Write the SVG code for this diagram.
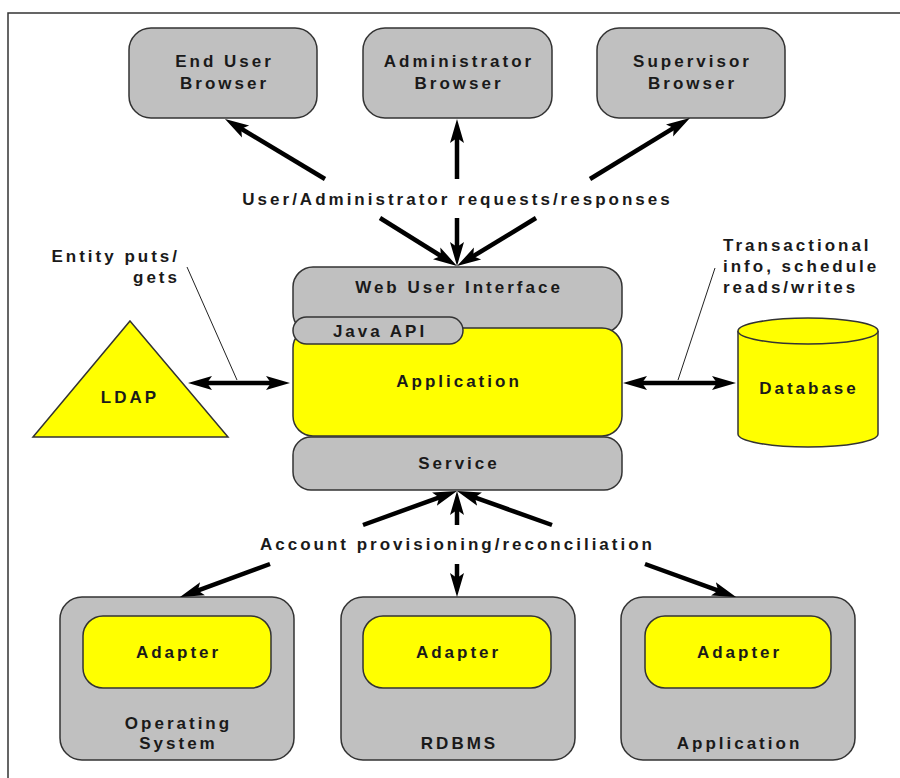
<svg xmlns="http://www.w3.org/2000/svg" width="900" height="778" viewBox="0 0 900 778">
<defs>
<style>
.t{font-family:"Liberation Sans",Arial,sans-serif;font-weight:bold;font-size:17px;letter-spacing:3px;fill:#1a1a1a}
.m{text-anchor:middle}
.e{text-anchor:end}
.g{fill:#c0c0c0;stroke:#333;stroke-width:1.5}
.y{fill:#ffff00;stroke:#333;stroke-width:1.5}
.a{stroke:#000;stroke-width:4.5;fill:none}
.l{stroke:#222;stroke-width:1;fill:none}
</style>
<marker id="ah" viewBox="0 0 24 16" refX="6" refY="8" markerWidth="24" markerHeight="16" markerUnits="userSpaceOnUse" orient="auto-start-reverse">
<path d="M0,1 L24,8 L0,15 L5,8 z" fill="#000"/>
</marker>
</defs>
<rect width="900" height="778" fill="#fff"/>
<path d="M8,778 V13 H900" fill="none" stroke="#333" stroke-width="1.5"/>

<g id="end-user-browser">
<rect class="g" x="129" y="28" width="188" height="90" rx="22"/>
<text class="t m" x="224.5" y="67">End User</text>
<text class="t m" x="224.5" y="89">Browser</text>
</g>
<g id="administrator-browser">
<rect class="g" x="363" y="28" width="189" height="90" rx="22"/>
<text class="t m" x="459" y="67">Administrator</text>
<text class="t m" x="459" y="89">Browser</text>
</g>
<g id="supervisor-browser">
<rect class="g" x="597" y="28" width="188" height="90" rx="22"/>
<text class="t m" x="692.5" y="67">Supervisor</text>
<text class="t m" x="692.5" y="89">Browser</text>
</g>

<g id="web-user-interface">
<rect class="g" x="293" y="267" width="329" height="66" rx="20"/>
<text class="t m" x="459" y="293">Web User Interface</text>
</g>
<g id="application">
<rect class="y" x="293" y="328" width="329" height="108" rx="20"/>
<text class="t m" x="459" y="387">Application</text>
</g>
<g id="java-api">
<rect class="g" x="293" y="317" width="170" height="27" rx="13.5"/>
<text class="t m" x="380" y="337">Java API</text>
</g>
<g id="service">
<rect class="g" x="293" y="437" width="329" height="53" rx="18"/>
<text class="t m" x="459" y="469">Service</text>
</g>

<g id="ldap">
<polygon class="y" points="130,321 228,437 33,437"/>
<text class="t m" x="130" y="403">LDAP</text>
</g>

<g id="database">
<path class="y" d="M738,331 V434 A70,13 0 0 0 878,434 V331"/>
<ellipse class="y" cx="808" cy="331" rx="70" ry="13"/>
<text class="t m" x="809" y="394">Database</text>
</g>

<g id="operating-system">
<rect class="g" x="60" y="597" width="234" height="163" rx="22"/>
<rect class="y" x="83" y="616" width="188" height="72" rx="20"/>
<text class="t m" x="178.5" y="658">Adapter</text>
<text class="t m" x="178.5" y="729">Operating</text>
<text class="t m" x="178.5" y="749">System</text>
</g>
<g id="rdbms">
<rect class="g" x="341" y="597" width="234" height="163" rx="22"/>
<rect class="y" x="363" y="616" width="188" height="72" rx="20"/>
<text class="t m" x="458.5" y="658">Adapter</text>
<text class="t m" x="459.5" y="749">RDBMS</text>
</g>
<g id="application-resource">
<rect class="g" x="621" y="597" width="234" height="163" rx="22"/>
<rect class="y" x="645" y="616" width="186" height="72" rx="20"/>
<text class="t m" x="739.5" y="658">Adapter</text>
<text class="t m" x="739.5" y="749">Application</text>
</g>

<g id="labels">
<text class="t m" x="457.5" y="205">User/Administrator requests/responses</text>
<text class="t m" x="457.5" y="550">Account provisioning/reconciliation</text>
<text class="t e" x="180" y="262">Entity puts/</text>
<text class="t e" x="180" y="283">gets</text>
<text class="t" x="723" y="251">Transactional</text>
<text class="t" x="723" y="272">info, schedule</text>
<text class="t" x="723" y="293">reads/writes</text>
</g>

<g id="connectors">
<line class="a" x1="325" y1="179" x2="240.4" y2="128.3" marker-end="url(#ah)"/>
<line class="a" x1="457" y1="179" x2="457" y2="137" marker-end="url(#ah)"/>
<line class="a" x1="590" y1="179" x2="674.6" y2="127.4" marker-end="url(#ah)"/>
<line class="a" x1="380" y1="218" x2="441.7" y2="256.5" marker-end="url(#ah)"/>
<line class="a" x1="457" y1="218" x2="457" y2="248" marker-end="url(#ah)"/>
<line class="a" x1="536" y1="218" x2="472.4" y2="256.7" marker-end="url(#ah)"/>
<line class="a" x1="363" y1="525" x2="440.1" y2="497.1" marker-end="url(#ah)"/>
<line class="a" x1="457" y1="525" x2="457" y2="509" marker-end="url(#ah)"/>
<line class="a" x1="552" y1="525" x2="473.9" y2="497.1" marker-end="url(#ah)"/>
<line class="a" x1="270" y1="564" x2="196.9" y2="590.8" marker-end="url(#ah)"/>
<line class="a" x1="457" y1="564" x2="457" y2="579" marker-end="url(#ah)"/>
<line class="a" x1="645" y1="564" x2="719.1" y2="590.9" marker-end="url(#ah)"/>
<line class="a" x1="206" y1="383" x2="272" y2="383" marker-start="url(#ah)" marker-end="url(#ah)"/>
<line class="a" x1="641" y1="383" x2="718" y2="383" marker-start="url(#ah)" marker-end="url(#ah)"/>
<line class="l" x1="187" y1="267" x2="237" y2="380"/>
<line class="l" x1="715" y1="268" x2="678" y2="380"/>
</g>
</svg>
